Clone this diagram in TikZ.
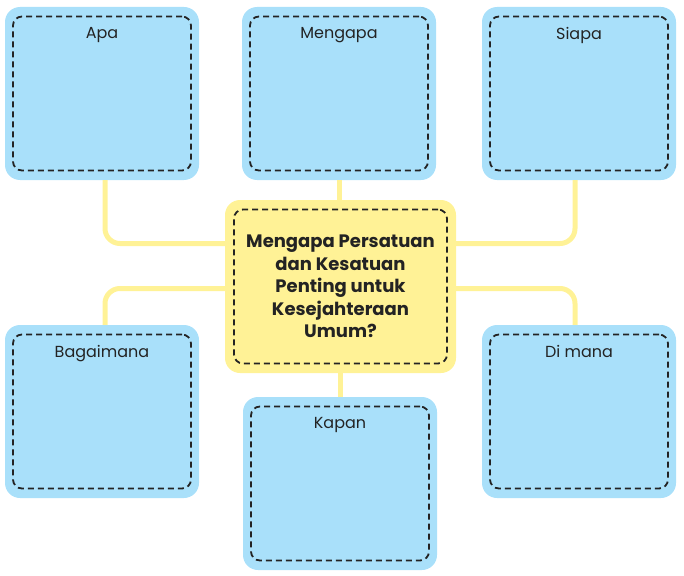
\documentclass[tikz,border=0pt]{standalone}
\usepackage{fontspec}
\setmainfont{Poppins}
\usepackage{tikz}
\usetikzlibrary{positioning}
\definecolor{biru}{RGB}{169,224,250}
\definecolor{kuning}{RGB}{255,242,150}
\definecolor{garisgelap}{RGB}{35,35,35}

\begin{document}
\begin{tikzpicture}[x=1pt, y=-1pt,
        kotak/.style={fill=biru, rounded corners=15pt, minimum width=194pt, minimum height=173pt, inner sep=0pt},
        bingkai/.style={draw=garisgelap, line width=1.8pt, dash pattern=on 6pt off 4pt, rounded corners=9pt,
                        minimum width=178pt, minimum height=154pt, inner sep=0pt},
        judul/.style={font=\fontsize{16}{18}\selectfont, text=garisgelap},
        hubung/.style={draw=kuning, line width=5pt, rounded corners=15pt}
    ]
        \useasboundingbox (0,0) rectangle (684,575);

        % kotak tengah
        \node[kotak, fill=kuning, minimum width=231pt] (pusat) at (340.5,286.5) {};
        \node[bingkai, minimum width=213pt] (pusat-in) at (pusat.center) {};
        \node[align=center, font=\bfseries\fontsize{18}{22.5}\selectfont, text=garisgelap] (tanya) at (pusat.center)
            {Mengapa Persatuan\\dan Kesatuan\\Penting untuk\\Kesejahteraan\\Umum?};

        % kotak pertanyaan
        \foreach \nama/\teks/\px/\py in {apa/Apa/102/93.5, mengapa/Mengapa/339/93.5, siapa/Siapa/579/93.5,
                                          bagaimana/Bagaimana/102/411.5, kapan/Kapan/340/483.5, dimana/Di mana/579/411.5} {
            \node[kotak] (\nama) at (\px,\py) {};
            \node[bingkai] (\nama-in) at (\nama.center) {};
            \node[judul, anchor=north] (\nama-judul) at ([yshift=-8pt]\nama-in.north) {\teks};
        }

        % garis penghubung
        \draw[hubung] (mengapa.south) -- (mengapa.south |- pusat.north);
        \draw[hubung] (kapan.north |- pusat.south) -- (kapan.north);
        \draw[hubung] ([xshift=3pt]apa.south) |- ([yshift=43pt]pusat.west);
        \draw[hubung] ([xshift=-4pt]siapa.south) |- ([yshift=43pt]pusat.east);
        \draw[hubung] ([xshift=3pt]bagaimana.north) |- ([yshift=-2pt]pusat.west);
        \draw[hubung] ([xshift=-4pt]dimana.north) |- ([yshift=-2pt]pusat.east);
    \end{tikzpicture}
\end{document}
